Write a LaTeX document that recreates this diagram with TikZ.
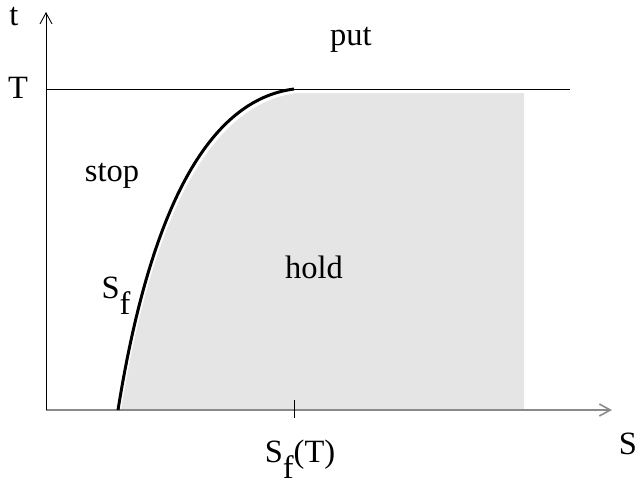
\documentclass[tikz,border=0pt]{standalone}
\usepackage{fontspec}
\setmainfont{Liberation Serif}
\usetikzlibrary{arrows.meta,positioning}
\definecolor{holdGrey}{HTML}{e5e5e5}
\definecolor{axisGrey}{HTML}{8a8a8a}
\tikzset{
  >={Straight Barb[length=2.2mm,width=2.4mm]},
  axis/.style={->, draw=black, line width=0.5pt},
  saxis/.style={->, draw=axisGrey, line width=0.9pt},
  lbl/.style={font=\fontsize{18.5}{21}\selectfont, inner sep=0pt},
  bound/.style={draw=black, line width=1.7pt},
}
\begin{document}
\begin{tikzpicture}[x=0.02cm,y=-0.02cm]
  \useasboundingbox (0,0) rectangle (639,485);
  % hold region
  \fill[holdGrey] (121,410) .. controls (153,212) and (212,104) .. (297,93)
    -- (524,93) -- (524,410) -- cycle;
  % axes
  \coordinate (o) at (46,410);
  \coordinate (sEnd) at (612,410);
  \coordinate (tEnd) at (46,12);
  \draw[saxis] (o) -- (sEnd);
  \draw[axis] (o) -- (tEnd);
  \coordinate (tL) at (46,89);
  \coordinate (tR) at (570,89);
  \draw[line width=0.5pt] (tL) -- (tR);
  % free boundary
  \coordinate (sfT) at (294,89);
  \draw[bound] (118,410) .. controls (150,210) and (208,100) .. (sfT);
  \coordinate (tickTop) at (294,400);
  \coordinate (tickBot) at (294,418);
  \draw[line width=0.5pt] (tickTop) -- (tickBot);
  % labels
  \node[lbl] (tLab) at (14,17) {t};
  \node[lbl] (TLab) at (18,88) {T};
  \node[lbl] (SLab) at (628,444) {S};
  \node[lbl] (put) at (351,40) {put};
  \node[lbl] (stop) at (112,176) {stop};
  \node[lbl] (hold) at (314,267) {hold};
  \node[lbl] (sf) at (116,296) {S\raisebox{-1.1ex}{f}};
  \node[lbl] (sfLab) at (300,459) {S\raisebox{-1.1ex}{f}(T)};
\end{tikzpicture}
\end{document}
